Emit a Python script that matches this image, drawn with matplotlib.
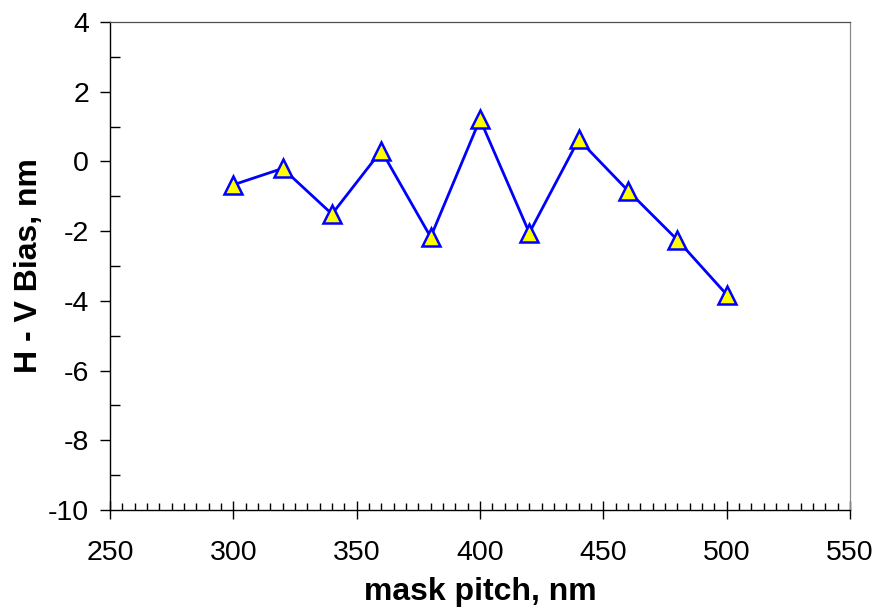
import matplotlib
matplotlib.use("Agg")
import matplotlib.pyplot as plt
from matplotlib.ticker import MultipleLocator

plt.rcParams['font.family'] = ['Liberation Sans', 'DejaVu Sans']
plt.rcParams['axes.unicode_minus'] = False

# H - V bias vs mask pitch
pitch = [300, 320, 340, 360, 380, 400, 420, 440, 460, 480, 500]
bias = [-0.67, -0.20, -1.51, 0.31, -2.17, 1.21, -2.05, 0.63, -0.84, -2.25, -3.82]

fig = plt.figure(figsize=(8.78, 6.11), dpi=100)
ax = fig.add_axes([0.1253, 0.1653, 0.8428, 0.7987])

ax.plot(pitch, bias, color='#0000ff', lw=2.0, marker='^', markersize=12.5,
        markerfacecolor='#ffff00', markeredgecolor='#0000ff', markeredgewidth=1.8,
        clip_on=False, zorder=3)

ax.set_xlim(250, 550)
ax.set_ylim(-10, 4)
ax.xaxis.set_major_locator(MultipleLocator(50))
ax.xaxis.set_minor_locator(MultipleLocator(5))
ax.yaxis.set_major_locator(MultipleLocator(2))
ax.yaxis.set_minor_locator(MultipleLocator(1))

# plot-area frame: thin grey on top/right, black axes on left/bottom
ax.spines['top'].set_color('#505050')
ax.spines['right'].set_color('#8a8a8a')
ax.spines['top'].set_linewidth(0.9)
ax.spines['right'].set_linewidth(0.9)
for side in ['left', 'bottom']:
    ax.spines[side].set_linewidth(1.0)
    ax.spines[side].set_zorder(2.5)

ax.tick_params(axis='x', which='major', direction='inout', length=13, width=1, labelsize=20.5, pad=15)
ax.tick_params(axis='x', which='minor', direction='in', length=5, width=1)
ax.tick_params(axis='y', which='major', direction='out', length=7, width=1, labelsize=20.5, pad=8)
ax.tick_params(axis='y', which='minor', direction='in', length=7, width=1)

ax.set_xlabel('mask pitch, nm', fontsize=23, fontweight='bold', labelpad=8)
ax.set_ylabel('H - V Bias, nm', fontsize=23, fontweight='bold', labelpad=3)

fig.savefig('out.png', dpi=100)
